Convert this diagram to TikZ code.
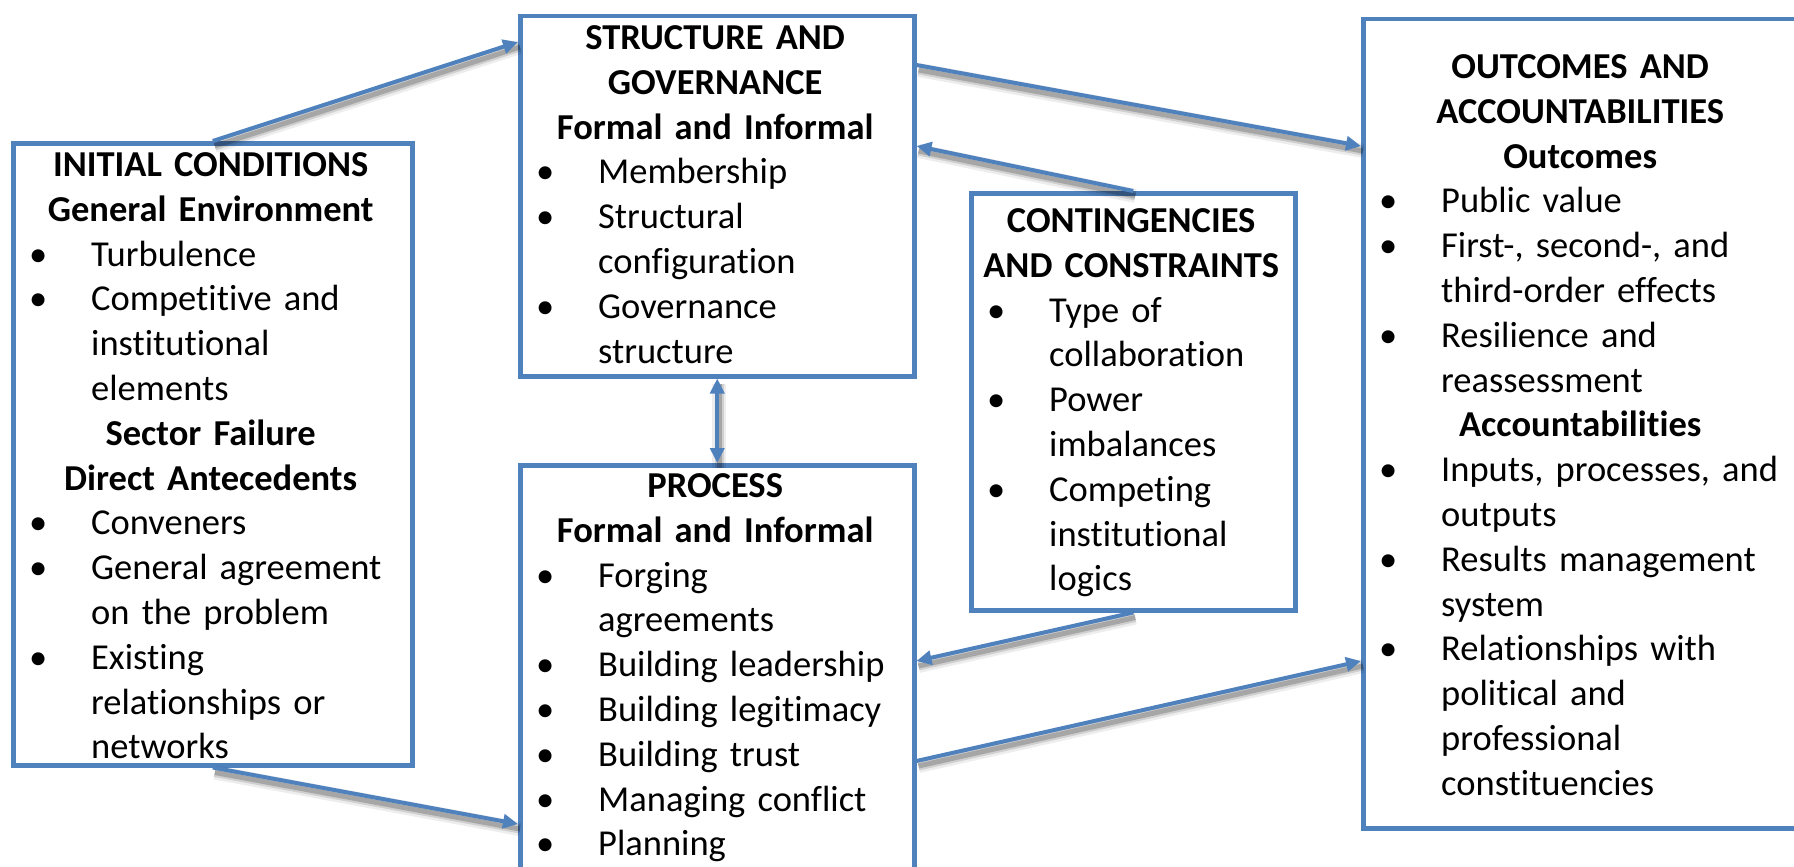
\documentclass[tikz,border=0pt]{standalone}
\usepackage{fontspec}
\setmainfont{Carlito}[Ligatures=NoCommon]
\usetikzlibrary{arrows.meta}

\definecolor{boxblue}{RGB}{79,129,189}

% centred bold heading line and bullet item with hanging indent
\newcommand{\hd}[1]{{\centering\bfseries\strut #1\par}}
\newcommand{\itm}[1]{{\raggedright\hangindent=80pt\hangafter=1\strut\makebox[80pt][l]{\hspace{18pt}\textbullet}#1\par}}

\tikzset{
  panel/.style={draw=boxblue, line width=4.5pt, fill=white, anchor=north west, inner sep=0pt},
  txt/.style={anchor=north west, inner sep=0pt, font=\fontsize{36.5}{44.8}\selectfont},
  >={Triangle[length=15pt,width=14pt]},
  flow/.style={draw=boxblue, line width=4pt, ->,
    preaction={draw=black, opacity=0.07, line width=14pt, -, transform canvas={shift={(2,5)}}},
    preaction={draw=black, opacity=0.12, line width=9pt, -, transform canvas={shift={(2,5)}}},
    preaction={draw=black, opacity=0.20, line width=5pt, -, transform canvas={shift={(2,5)}}}}
}

\begin{document}
\begin{tikzpicture}[x=1pt, y=-1pt]
			\useasboundingbox (0,0) rectangle (1794,867);
			\clip (0,0) rectangle (1794,867);
			
			% Boxes
			\node[panel, minimum width=399, minimum height=622] (init) at (11,141) {};
			\node[panel, minimum width=394, minimum height=360] (struct) at (518,14) {};
			\node[panel, minimum width=324, minimum height=417] (cont) at (969,191) {};
			\node[panel, minimum width=394, minimum height=430] (proc) at (518,463) {};
			\node[panel, minimum width=438, minimum height=809] (outc) at (1361,17) {};
			
			% Box texts
			\node[txt, text width=399] (initT) at ([yshift=-4]init.north west) {%
				\hd{INITIAL CONDITIONS}
				\hd{General Environment}
				\itm{Turbulence}
				\itm{Competitive and\newline institutional\newline elements}
				\hd{Sector Failure}
				\hd{Direct Antecedents}
				\itm{Conveners}
				\itm{General agreement\newline on the problem}
				\itm{Existing\newline relationships or\newline networks}};
			
			\node[txt, text width=394] (structT) at ([yshift=-4]struct.north west) {%
				\hd{STRUCTURE AND}
				\hd{GOVERNANCE}
				\hd{Formal and Informal}
				\itm{Membership}
				\itm{Structural\newline configuration}
				\itm{Governance\newline structure}};
			
			\node[txt, text width=324] (contT) at ([yshift=-10]cont.north west) {%
				\hd{CONTINGENCIES}
				\hd{AND CONSTRAINTS}
				\itm{Type of\newline collaboration}
				\itm{Power\newline imbalances}
				\itm{Competing\newline institutional\newline logics}};
			
			\node[txt, text width=394] (procT) at ([yshift=-3]proc.north west) {%
				\hd{PROCESS}
				\hd{Formal and Informal}
				\itm{Forging\newline agreements}
				\itm{Building leadership}
				\itm{Building legitimacy}
				\itm{Building trust}
				\itm{Managing conflict}
				\itm{Planning}};
			
			\node[txt, text width=438] (outcT) at ([yshift=-30]outc.north west) {%
				\hd{OUTCOMES AND}
				\hd{ACCOUNTABILITIES}
				\hd{Outcomes}
				\itm{Public value}
				\itm{First-, second-, and\newline third-order effects}
				\itm{Resilience and\newline reassessment}
				\hd{Accountabilities}
				\itm{Inputs, processes, and\newline outputs}
				\itm{Results management\newline system}
				\itm{Relationships with\newline political and\newline professional\newline constituencies}};
			
			% Arrows between boxes
			\draw[flow] (init.north) -- ([yshift=-28]struct.north west);
			\draw[flow] ([yshift=-51]struct.north east) -- ([yshift=-129]outc.north west);
			\draw[flow] (cont.north) -- ([yshift=-132]struct.north east);
			\draw[flow, <->] (struct.south) -- (proc.north);
			\draw[flow] (cont.south) -- ([yshift=-198]proc.north east);
			\draw[flow] ([yshift=-298]proc.north east) -- ([yshift=-644]outc.north west);
			\draw[flow] (init.south) -- ([yshift=-361]proc.north west);
		\end{tikzpicture}
\end{document}
